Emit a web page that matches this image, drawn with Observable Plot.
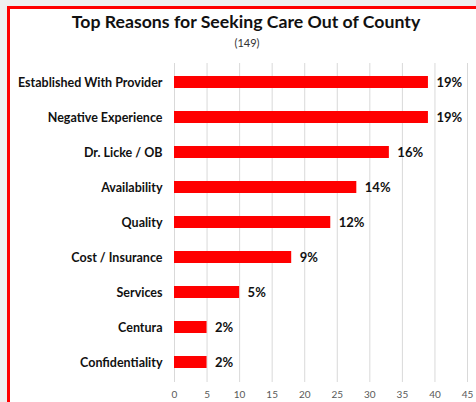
<!DOCTYPE html>
<html>
<head>
<meta charset="utf-8">
<script src="https://cdn.jsdelivr.net/npm/d3@7"></script>
<script src="https://cdn.jsdelivr.net/npm/@observablehq/plot@0.6"></script>
<style>
  html, body { margin: 0; padding: 0; width: 476px; height: 402px; overflow: hidden; background: #efefef; }
  #frame { position: absolute; left: 7px; top: 6px; width: 469px; height: 396px;
           border-left: 3px solid #ff0000; border-top: 3px solid #ff0000; background: #fff; }
  #title { position: absolute; left: 0; top: 11px; width: 476px; text-align: center;
           font-family: Lato, sans-serif; font-weight: bold; font-size: 17.7px; color: #111; padding-left: 16px; box-sizing: border-box; }
  #subtitle { position: absolute; left: 0; top: 36px; width: 476px; text-align: center;
           font-family: Lato, sans-serif; font-size: 11px; color: #333; padding-left: 18px; box-sizing: border-box; }
  #chart { position: absolute; left: 0; top: 55px; }
</style>
</head>
<body>
<div id="frame"></div>
<div id="title">Top Reasons for Seeking Care Out of County</div>
<div id="subtitle">(149)</div>
<div id="chart"></div>
<script>
const categories = ["Established With Provider", "Negative Experience", "Dr. Licke / OB", "Availability", "Quality", "Cost / Insurance", "Services", "Centura", "Confidentiality"];
const counts = [39, 39, 33, 28, 24, 18, 10, 5, 5];
const pctLabels = ["19%", "19%", "16%", "14%", "12%", "9%", "5%", "2%", "2%"];
const xTicks = [0, 5, 10, 15, 20, 25, 30, 35, 40, 45];

const data = categories.map((c, i) => ({category: c, value: counts[i], label: pctLabels[i]}));

const chart = Plot.plot({
  width: 476,
  height: 347,
  marginLeft: 174,
  marginRight: 9,
  marginTop: 8,
  marginBottom: 20,
  style: {fontFamily: "Lato, sans-serif", background: "transparent"},
  x: {domain: [0, 45], ticks: xTicks, label: null},
  y: {domain: categories, paddingInner: 0.645, paddingOuter: 0.33, label: null},
  marks: [
    Plot.gridX(xTicks, {stroke: "#d9d9d9", strokeOpacity: 1, strokeWidth: 1}),
    Plot.barX(data, {x: "value", y: "category", fill: "#ff0000"}),
    Plot.text(data, {x: "value", y: "category", text: "label", textAnchor: "start", dx: 8,
      fontWeight: "bold", fontSize: 13, fill: "#111"}),
    Plot.axisX({ticks: xTicks, tickSize: 0, tickPadding: 8, fontSize: 10, color: "#595959", label: null}),
    Plot.axisY({tickSize: 0, tickPadding: 12, fontSize: 12.5, fontWeight: "bold", color: "#111", label: null})
  ]
});
document.getElementById("chart").appendChild(chart);
</script>
</body>
</html>
